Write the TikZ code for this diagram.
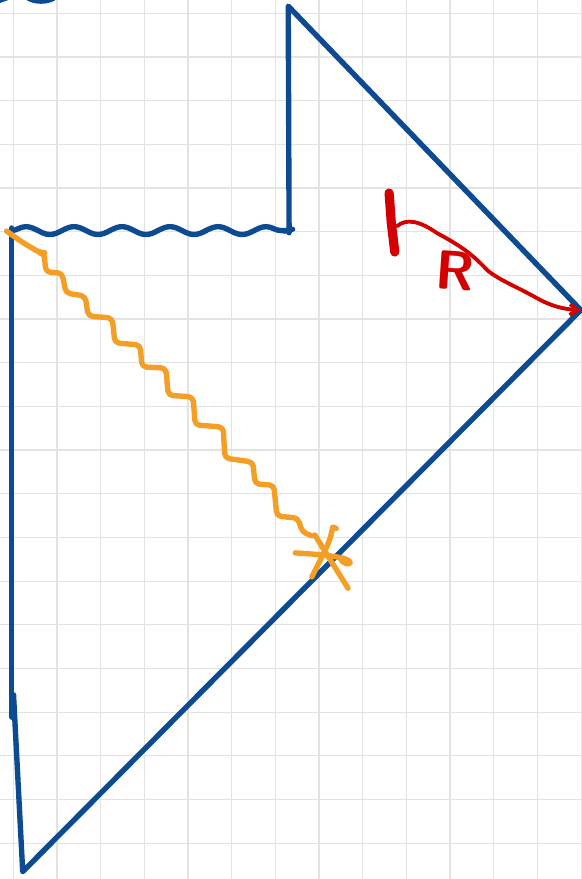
\documentclass[tikz,border=0pt]{standalone}
\usetikzlibrary{arrows.meta,decorations.pathmorphing}
\definecolor{inkblue}{RGB}{12,74,145}
\definecolor{inkorange}{RGB}{245,158,38}
\definecolor{inkred}{RGB}{212,0,0}
\begin{document}
\begin{tikzpicture}[
    x=1cm, y=1cm,
    gridline/.style={gray!22, line width=0.7pt},
    bluepen/.style={inkblue, line width=3.5pt, line cap=round, line join=round},
    orangepen/.style={inkorange, line width=3.5pt, line cap=round, line join=round},
    redpen/.style={inkred, line width=2.5pt, line cap=round, line join=round}]
  \useasboundingbox (0,0) rectangle (13.327,-20.128);
  % paper grid
  \begin{scope}
    \clip (0,0) rectangle (13.327,-20.128);
    \fill[white] (0,0) rectangle (13.327,-20.128);
    \draw[gridline, xshift=0.305cm, yshift=-0.305cm] (-1,1) grid (14,-21);
    % stroke cut off at the top edge
    \draw[bluepen] (0.62,0.06) .. controls (0.8,-0.05) and (1.05,-0.05) .. (1.22,0.04);
    \draw[bluepen] (-0.05,-0.02) -- (0.15,0.05);
  \end{scope}
  % corners of the diagram
  \coordinate (top) at (6.60,-0.14);
  \coordinate (cut) at (6.62,-5.33);
  \coordinate (rim) at (13.30,-7.10);
  \coordinate (bot) at (0.52,-19.96);
  \coordinate (low) at (0.31,-15.91);
  \coordinate (axtop) at (0.27,-5.22);
  \coordinate (axbot) at (0.27,-16.42);
  \coordinate (wl) at (0.25,-5.28);
  \coordinate (wr) at (6.62,-5.28);
  % outline
  \draw[bluepen] (cut) -- (top) -- (rim) -- (bot) -- (low);
  \draw[bluepen] (axtop) -- (axbot);
  % singular line
  \draw[bluepen, decorate,
        decoration={snake, segment length=1.1cm, amplitude=0.09cm}] (wl) -- (wr);
  \draw[bluepen] (6.52,-5.29) -- (6.70,-5.25);
  % light ray
  \coordinate (src) at (0.15,-5.29);
  \coordinate (hit) at (7.14,-12.27);
  \draw[orangepen, rounded corners=3pt] (src) -- (0.50,-5.54) -- (0.92,-5.79)
    -- (1.01,-5.79) -- (1.05,-6.23) -- (1.42,-6.25) -- (1.51,-6.71)
    -- (1.95,-6.78) -- (2.02,-7.24) -- (2.57,-7.28) -- (2.63,-7.85)
    -- (3.21,-7.90) -- (3.25,-8.40) -- (3.80,-8.43) -- (3.85,-9.05)
    -- (4.42,-9.09) -- (4.47,-9.73) -- (5.11,-9.78) -- (5.15,-10.49)
    -- (5.79,-10.58) -- (5.84,-11.08) -- (6.27,-11.11) -- (6.34,-11.82)
    -- (6.82,-11.86) -- (6.92,-12.18) -- (hit);
  % cross at the end of the ray
  \draw[orangepen] (7.70,-12.10) -- (7.62,-12.07) .. controls (7.55,-12.4) .. (7.14,-13.21);
  \draw[orangepen] (6.76,-12.66) .. controls (7.40,-12.70) and (7.95,-12.75) .. (8.02,-12.87)
    .. controls (8.05,-12.95) and (7.85,-12.92) .. (7.80,-12.80);
  \draw[orangepen] (7.21,-12.25) .. controls (7.55,-12.80) .. (7.97,-13.47);
  % radius marker
  \coordinate (rs) at (9.09,-5.18);
  \draw[redpen, line width=6pt] (8.91,-4.42) -- (8.96,-5.10) -- (9.04,-5.77);
  \draw[redpen, -{Straight Barb[length=5pt,width=7pt]}] (rs) .. controls (9.30,-5.00) and (9.60,-5.05) .. (10.01,-5.34)
    .. controls (10.50,-5.60) and (10.80,-5.80) .. (11.15,-6.18)
    .. controls (11.40,-6.40) and (11.90,-6.60) .. (12.30,-6.83)
    .. controls (12.60,-7.00) and (12.90,-7.08) .. (rim);
  \node[inkred, rotate=-4, font=\sffamily\bfseries\fontsize{36}{36}\selectfont] (lblR) at (10.42,-6.20) {R};
\end{tikzpicture}
\end{document}
